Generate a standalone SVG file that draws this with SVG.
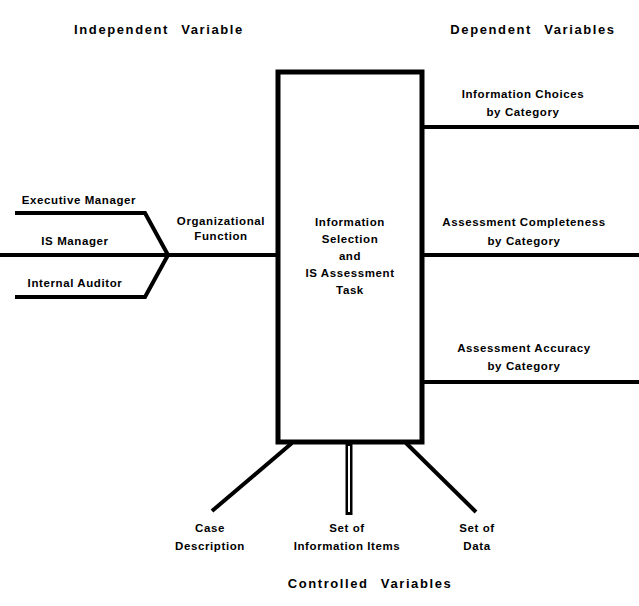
<svg xmlns="http://www.w3.org/2000/svg" width="639" height="606" viewBox="0 0 639 606">
<style>
text{font-family:"Liberation Sans",Arial,sans-serif;font-weight:bold;font-size:11.5px;fill:#000;text-anchor:middle;letter-spacing:0.6px}
.h{font-size:13px;letter-spacing:1.6px;word-spacing:7px}
.ln{stroke:#000;stroke-width:4;fill:none;stroke-linecap:butt;stroke-linejoin:miter}
.box{fill:#fff;stroke:#000;stroke-width:5}
</style>
<rect width="639" height="606" fill="#fff"/>
<g id="headings">
<text class="h" x="159" y="34">Independent Variable</text>
<text class="h" x="533" y="34">Dependent Variables</text>
<text class="h" x="370" y="588">Controlled Variables</text>
</g>
<g id="connectors">
<polyline class="ln" points="15,213 145,213 168,255"/>
<polyline class="ln" points="15,297 145,297 168,255"/>
<line class="ln" x1="0" y1="255" x2="278" y2="255"/>
<line class="ln" x1="422" y1="127" x2="639" y2="127"/>
<line class="ln" x1="422" y1="255" x2="639" y2="255"/>
<line class="ln" x1="422" y1="382" x2="639" y2="382"/>
<line class="ln" x1="292" y1="443" x2="212" y2="511"/>
<line class="ln" x1="406" y1="443" x2="476" y2="512"/>
<line x1="349" y1="443" x2="349" y2="515" stroke="#000" stroke-width="7"/>
<line x1="349" y1="446" x2="349" y2="512" stroke="#fff" stroke-width="2"/>
</g>
<g id="task">
<rect class="box" x="278" y="72" width="144" height="370"/>
<text x="350" y="226">Information</text>
<text x="350" y="243">Selection</text>
<text x="350" y="260">and</text>
<text x="350" y="277">IS Assessment</text>
<text x="350" y="294">Task</text>
</g>
<g id="executive-manager"><text x="79" y="204">Executive Manager</text></g>
<g id="is-manager"><text x="75" y="245">IS Manager</text></g>
<g id="internal-auditor"><text x="75" y="287">Internal Auditor</text></g>
<g id="organizational-function">
<text x="221" y="225">Organizational</text>
<text x="221" y="240">Function</text>
</g>
<g id="information-choices">
<text x="523" y="98">Information Choices</text>
<text x="523" y="116">by Category</text>
</g>
<g id="assessment-completeness">
<text x="524" y="226">Assessment Completeness</text>
<text x="524" y="245">by Category</text>
</g>
<g id="assessment-accuracy">
<text x="524" y="352">Assessment Accuracy</text>
<text x="524" y="370">by Category</text>
</g>
<g id="case-description">
<text x="210" y="532">Case</text>
<text x="210" y="550">Description</text>
</g>
<g id="information-items">
<text x="347" y="532">Set of</text>
<text x="347" y="550">Information Items</text>
</g>
<g id="data">
<text x="477" y="532">Set of</text>
<text x="477" y="550">Data</text>
</g>
</svg>
